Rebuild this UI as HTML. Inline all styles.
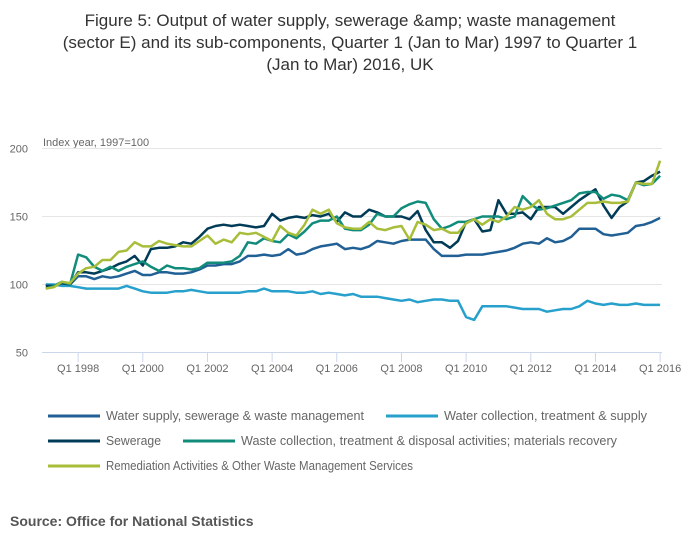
<!DOCTYPE html>
<html><head><meta charset="utf-8"><style>
body{margin:0;background:#fff;font-family:"Liberation Sans",sans-serif;}
svg text{font-family:"Liberation Sans",sans-serif;}
</style></head><body>
<svg id="chart" width="700" height="549" viewBox="0 0 700 549" xmlns="http://www.w3.org/2000/svg">
<g fill="#333" font-size="17" text-anchor="middle">
<text x="350" y="26">Figure 5: Output of water supply, sewerage &amp;amp; waste management</text>
<text x="350" y="48">(sector E) and its sub-components, Quarter 1 (Jan to Mar) 1997 to Quarter 1</text>
<text x="350" y="70">(Jan to Mar) 2016, UK</text>
</g>
<text x="43" y="146" font-size="11" fill="#666">Index year, 1997=100</text>
<g id="grid"></g>
<g id="xaxis"></g>
<g id="series"></g>
<g id="legend"></g>
<text x="10" y="526" font-size="14" font-weight="bold" fill="#555">Source: Office for National Statistics</text>
</svg>
<script>
const yTicks=[50,100,150,200];
const xTickLabels=["Q1 1998","Q1 2000","Q1 2002","Q1 2004","Q1 2006","Q1 2008","Q1 2010","Q1 2012","Q1 2014","Q1 2016"];
const xTickIdx=[4,12,20,28,36,44,52,60,68,76];
const seriesNames=["Water supply, sewerage & waste management","Water collection, treatment & supply","Sewerage","Waste collection, treatment & disposal activities; materials recovery","Remediation Activities & Other Waste Management Services"];
const seriesColors=["#206095","#27a0cc","#003c57","#118c7b","#a8bd3a"];
const waterSupply=[100,99,100,100,106,106,104,106,105,106,108,110,107,107,109,109,108,108,109,111,114,114,115,115,117,121,121,122,121,122,126,122,123,126,128,129,130,126,127,126,128,132,131,130,132,133,133,133,126,121,121,121,122,122,122,123,124,125,127,130,131,130,134,131,132,135,141,141,141,137,136,137,138,143,144,146,149];
const waterCollection=[100,100,99,99,98,97,97,97,97,97,99,97,95,94,94,94,95,95,96,95,94,94,94,94,94,95,95,97,95,95,95,94,94,95,93,94,93,92,93,91,91,91,90,89,88,89,87,88,89,89,88,88,76,74,84,84,84,84,83,82,82,82,80,81,82,82,84,88,86,85,86,85,85,86,85,85,85];
const sewerage=[99,99,101,100,109,109,108,110,112,115,117,121,114,126,127,127,128,131,130,135,141,143,144,143,144,143,142,143,152,147,149,150,149,151,150,152,146,153,150,150,155,153,150,150,150,148,154,140,131,131,127,132,146,148,139,140,162,152,152,153,148,157,157,157,152,157,162,166,170,158,149,157,161,175,176,180,183];
const wasteCollection=[97,99,102,100,122,120,113,110,113,110,113,115,117,113,110,114,112,112,111,112,116,116,116,117,121,131,130,134,132,131,137,134,139,145,147,147,150,141,140,140,144,152,150,150,156,159,161,160,148,141,143,146,146,148,150,150,150,148,150,165,159,155,156,158,160,162,167,168,168,163,166,165,162,175,173,174,180];
const remediation=[97,98,102,101,108,112,113,118,118,124,125,131,128,128,132,130,129,128,128,132,136,130,133,131,138,137,138,135,132,143,138,136,144,155,152,155,145,142,141,141,146,141,140,142,143,133,146,144,140,141,138,138,145,148,144,148,146,150,157,155,157,162,152,148,148,150,155,160,160,161,160,160,161,175,174,174,191];
const allSeries=[waterSupply,waterCollection,sewerage,wasteCollection,remediation];
const NS="http://www.w3.org/2000/svg";
const xs=i=>45.8+8.083*i;
const ys=v=>352.5-(v-50)*1.36;
function mk(t,a,p){const e=document.createElementNS(NS,t);for(const k in a)e.setAttribute(k,a[k]);p.appendChild(e);return e;}
const grid=document.getElementById('grid');
yTicks.forEach(v=>{
  if(v>50){const l=mk('line',{x1:42,x2:662,y1:ys(v),y2:ys(v),stroke:'#e6e6e6','stroke-width':1},grid);
  
  }
  const t=mk('text',{x:28,y:ys(v)+4,'font-size':11,fill:'#666','text-anchor':'end'},grid);t.textContent=v;
  
  
});
const xa=document.getElementById('xaxis');
const base=mk('line',{x1:42,x2:662,y1:352.5,y2:352.5,stroke:'#ccd6eb','stroke-width':1},xa);


xTickIdx.forEach((q,k)=>{
  const tk=mk('line',{x1:xs(q),x2:xs(q),y1:352.5,y2:362,stroke:'#ccd6eb'},xa);
  
  
  const t=mk('text',{x:xs(q),y:372,'font-size':11,fill:'#666','text-anchor':'middle'},xa);t.textContent=xTickLabels[k];
  
  
});
const sg=document.getElementById('series');
allSeries.forEach((s,k)=>{
  const p=mk('polyline',{points:s.map((v,i)=>xs(i).toFixed(1)+','+ys(v).toFixed(1)).join(' '),fill:'none',stroke:seriesColors[k],'stroke-width':2.5,'stroke-linejoin':'round'},sg);
  
  
});
const lg=document.getElementById('legend');
const lpos=[[48,416],[386,416],[48,441],[183,441],[48,466]];
const lw=[258,203,55,376,307];
seriesNames.forEach((n,k)=>{
  const [x,y]=lpos[k];
  const g=mk('g',{},lg);
  
  
  mk('line',{x1:x,x2:x+52,y1:y,y2:y,stroke:seriesColors[k],'stroke-width':3},g);
  const t=mk('text',{x:x+58,y:y+4,'font-size':12.5,fill:'#666',textLength:lw[k],lengthAdjust:'spacingAndGlyphs'},g);t.textContent=n;
});
</script>
</body></html>
